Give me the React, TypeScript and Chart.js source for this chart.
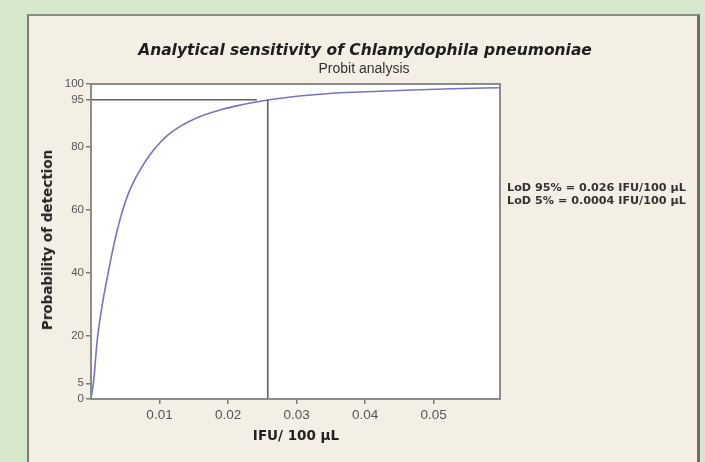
import React, { useEffect, useRef } from "react";
import { Chart, registerables } from "chart.js";

Chart.register(...registerables);

// ---- data ----
const doseValues = [0, 0.0004, 0.0009, 0.0015, 0.0021, 0.0025, 0.003, 0.0036, 0.0043, 0.005, 0.0056, 0.0064, 0.0072, 0.0079, 0.0091, 0.01, 0.0108, 0.0118, 0.0132, 0.0144, 0.0166, 0.0192, 0.022, 0.0241, 0.0258, 0.0304, 0.0348, 0.0421, 0.0469, 0.0527, 0.0597];
const probValues = [0, 6, 18.5, 28, 35.5, 40, 45.5, 51.5, 57.5, 62.5, 66, 69.7, 72.8, 75.3, 79, 81.2, 83, 84.8, 86.8, 88.2, 90.2, 92, 93.4, 94.3, 94.9, 96.2, 97, 97.7, 98.1, 98.5, 98.8];

const yTickValues = [0, 5, 20, 40, 60, 80, 95, 100];
const xTickValues = [0.01, 0.02, 0.03, 0.04, 0.05];
const xTickLabels = ["0.01", "0.02", "0.03", "0.04", "0.05"];

const X_MIN = 0;
const X_MAX = 0.0597;
const LOD95_X = 0.0258;
const LOD95_Y = 95;
const HLINE_END_X = 0.0242;

const TITLE = "Analytical sensitivity of Chlamydophila pneumoniae";
const SUBTITLE = "Probit analysis";
const Y_TITLE = "Probability of detection";
const X_TITLE = "IFU/ 100 µL";
const LOD_LINES = ["LoD 95% = 0.026 IFU/100 µL", "LoD 5% = 0.0004 IFU/100 µL"];

const framePlugin = {
  id: "frame",
  beforeDatasetsDraw(chart: any) {
    const { ctx, chartArea: a } = chart;
    ctx.save();
    ctx.fillStyle = "#ffffff";
    ctx.fillRect(a.left, a.top, a.right - a.left, a.bottom - a.top);
    ctx.restore();
  },
  afterDraw(chart: any) {
    const { ctx, chartArea: a } = chart;
    ctx.save();
    ctx.strokeStyle = "#8c8c8c";
    ctx.lineWidth = 2;
    ctx.strokeRect(a.left, a.top, a.right - a.left, a.bottom - a.top);
    ctx.restore();
  },
};

export default function App() {
  const ref = useRef<HTMLCanvasElement | null>(null);

  useEffect(() => {
    if (!ref.current) return;
    const curve = doseValues.map((x, i) => ({ x, y: probValues[i] }));
    const chart = new Chart(ref.current, {
      type: "line",
      data: {
        datasets: [
          {
            data: [{ x: X_MIN, y: LOD95_Y }, { x: HLINE_END_X, y: LOD95_Y }],
            borderColor: "#606060",
            borderWidth: 1.6,
            pointRadius: 0,
          },
          {
            data: [{ x: LOD95_X, y: LOD95_Y }, { x: LOD95_X, y: 0 }],
            borderColor: "#606060",
            borderWidth: 1.6,
            pointRadius: 0,
          },
          {
            data: curve,
            borderColor: "#7474c4",
            borderWidth: 1.6,
            pointRadius: 0,
            cubicInterpolationMode: "monotone",
          },
        ],
      },
      options: {
        animation: false,
        responsive: false,
        devicePixelRatio: 1,
        layout: { padding: { left: 28, right: 205, top: 84, bottom: 0 } },
        plugins: { legend: { display: false }, tooltip: { enabled: false } },
        scales: {
          x: {
            type: "linear",
            min: X_MIN,
            max: X_MAX,
            afterBuildTicks: (s: any) => {
              s.ticks = xTickValues.map((v) => ({ value: v }));
            },
            afterFit: (s: any) => {
              s.height = 63;
            },
            ticks: {
              autoSkip: false,
              maxRotation: 0,
              padding: 3,
              color: "#555555",
              font: { family: "'Liberation Sans', Arial, sans-serif", size: 13.5 },
              callback: (_v: any, i: number) => xTickLabels[i],
            },
            grid: { drawOnChartArea: false, drawTicks: true, tickLength: 5, color: "#7a7a7a", lineWidth: 1.5 },
            border: { display: false },
          },
          y: {
            type: "linear",
            min: 0,
            max: 100,
            afterBuildTicks: (s: any) => {
              s.ticks = yTickValues.map((v) => ({ value: v }));
            },
            afterFit: (s: any) => {
              s.width = 63;
            },
            ticks: {
              autoSkip: false,
              padding: 2,
              color: "#555555",
              font: { family: "'Liberation Sans', Arial, sans-serif", size: 11.5 },
              callback: (v: any) => String(v),
            },
            grid: { drawOnChartArea: false, drawTicks: true, tickLength: 5, color: "#7a7a7a", lineWidth: 1.5 },
            border: { display: false },
          },
        },
      },
      plugins: [framePlugin],
    } as any);
    return () => chart.destroy();
  }, []);

  const abs = (s: React.CSSProperties): React.CSSProperties => ({ position: "absolute", whiteSpace: "nowrap", ...s });

  return (
    <div style={{ position: "fixed", left: 0, top: 0, width: 705, height: 462, background: "#d5e8cb", overflow: "hidden" }}>
      <div
        style={{
          position: "absolute",
          left: 27,
          top: 14,
          width: 668,
          height: 470,
          background: "#f3efe4",
          borderLeft: "2px solid #7d7d72",
          borderTop: "2px solid #8a8a7e",
          borderRight: "3px solid #6e6e66",
        }}
      />
      <canvas ref={ref} width={705} height={462} style={{ position: "absolute", left: 0, top: 0 }} />
      <div style={abs({ left: 365, top: 41, transform: "translateX(-50%)", font: "italic bold 15.5px 'DejaVu Sans', sans-serif", color: "#1e1e1e" })}>{TITLE}</div>
      <div style={abs({ left: 364, top: 60, transform: "translateX(-50%)", font: "14px 'Liberation Sans', sans-serif", color: "#333" })}>{SUBTITLE}</div>
      <div style={abs({ left: 47, top: 240, transform: "translate(-50%, -50%) rotate(-90deg)", font: "bold 13.5px 'DejaVu Sans', sans-serif", color: "#222" })}>{Y_TITLE}</div>
      <div style={abs({ left: 296, top: 427, transform: "translateX(-50%)", font: "bold 13.5px 'DejaVu Sans', sans-serif", color: "#222" })}>{X_TITLE}</div>
      <div style={abs({ left: 507, top: 181, font: "bold 11.2px 'DejaVu Sans', sans-serif", color: "#333", lineHeight: "13px" })}>
        <div>{LOD_LINES[0]}</div>
        <div>{LOD_LINES[1]}</div>
      </div>
    </div>
  );
}
